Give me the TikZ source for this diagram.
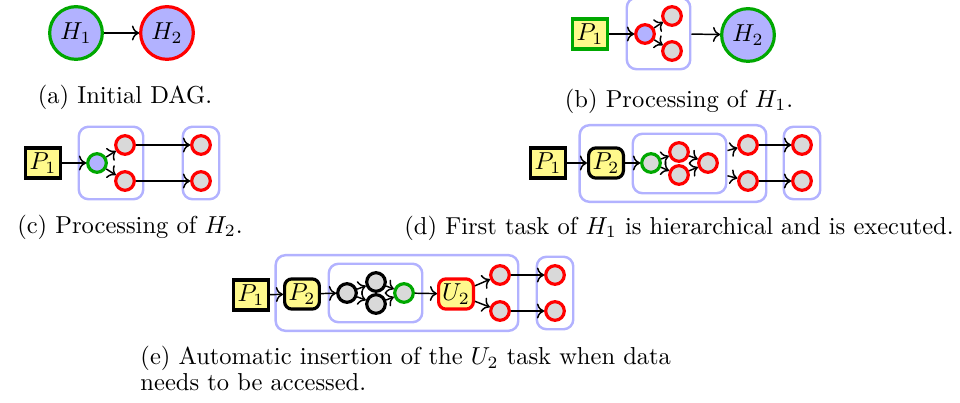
\documentclass[tikz,border=0pt]{standalone}
\usepackage{amsmath}
\usepackage{tikz}
\usetikzlibrary{positioning, fit, arrows.meta}
\definecolor{DagGreen}{RGB}{0,168,0}

\tikzset{
  bigtask/.style={circle, line width=1.3pt, fill=blue!30, minimum size=21.5pt, inner sep=0pt},
  task/.style={circle, line width=1.3pt, draw=red, fill=gray!30, minimum size=7.6pt, inner sep=0pt},
  proc/.style={rectangle, line width=1.3pt, draw=black, fill=yellow!45, minimum width=14.2pt, minimum height=12.3pt, inner sep=1pt},
  hproc/.style={proc, rounded corners=3pt},
  grp/.style={draw=blue!30, line width=1pt, rounded corners=4pt, inner sep=3pt},
  dep/.style={->, semithick},
  capt/.style={font=\normalsize}
}

\begin{document}
\begin{tikzpicture}[x=0.408pt, y=-0.408pt]
\useasboundingbox (0,0) rectangle (960,403);
% --- (a) Initial DAG ---
\node[bigtask, draw=DagGreen] (H1a) at (76,33) {$H_1$};
\node[bigtask, draw=red] (H2a) at (167,33) {$H_2$};
\draw[dep] (H1a) -- (H2a);
\node[capt] (capa) at (125,97) {(a) Initial DAG.};

% --- (b) Processing of H1 ---
\node[proc, draw=DagGreen] (P1b) at (590,34) {$P_1$};
\node[task, fill=blue!30] (b0) at (645,34) {};
\node[task] (b1) at (672,16) {};
\node[task] (b2) at (672,51) {};
\node[grp, fit=(b0)(b1)(b2)] (gb) {};
\node[bigtask, draw=DagGreen] (H2b) at (748,35) {$H_2$};
\draw[dep] (P1b) -- (b0);
\draw[dep] (b0) -- (b1);
\draw[dep] (b0) -- (b2);
\draw[dep] (gb) -- (H2b);
\node[capt] (capb) at (679,101) {(b) Processing of $H_1$.};

% --- (c) Processing of H2 ---
\node[proc] (P1c) at (43,163) {$P_1$};
\node[task, draw=DagGreen, fill=blue!30] (c0) at (97,163) {};
\node[task] (c1) at (125,145) {};
\node[task] (c2) at (125,181) {};
\node[grp, fit=(c0)(c1)(c2)] (gc1) {};
\node[task] (c3) at (201,145) {};
\node[task] (c4) at (201,181) {};
\node[grp, fit=(c3)(c4)] (gc2) {};
\draw[dep] (P1c) -- (c0);
\draw[dep] (c0) -- (c1);
\draw[dep] (c0) -- (c2);
\draw[dep] (c1) -- (c3);
\draw[dep] (c2) -- (c4);
\node[capt] (capc) at (130,227) {(c) Processing of $H_2$.};

% --- (d) First task of H1 executed ---
\node[proc] (P1d) at (548,163) {$P_1$};
\node[hproc] (P2d) at (606,163) {$P_2$};
\node[task, draw=DagGreen] (d0) at (651,163) {};
\node[task] (d1) at (679,152) {};
\node[task] (d2) at (679,175) {};
\node[task] (d3) at (708,163) {};
\node[grp, fit=(d0)(d1)(d2)(d3)] (gd0) {};
\node[task] (d4) at (748,145) {};
\node[task] (d5) at (748,181) {};
\node[grp, fit=(P2d)(gd0)(d4)(d5)] (gd1) {};
\node[task] (d6) at (802,145) {};
\node[task] (d7) at (802,181) {};
\node[grp, fit=(d6)(d7)] (gd2) {};
\draw[dep] (P1d) -- (P2d);
\draw[dep] (P2d) -- (d0);
\draw[dep] (d0) -- (d1);
\draw[dep] (d0) -- (d2);
\draw[dep] (d1) -- (d3);
\draw[dep] (d2) -- (d3);
\draw[dep] (gd0) -- (d4);
\draw[dep] (gd0) -- (d5);
\draw[dep] (d4) -- (d6);
\draw[dep] (d5) -- (d7);
\node[capt] (capd) at (679,228) {(d) First task of $H_1$ is hierarchical and is executed.};

% --- (e) Insertion of U2 ---
\node[proc] (P1e) at (251,295) {$P_1$};
\node[hproc] (P2e) at (302,294) {$P_2$};
\node[task, draw=black] (e0) at (347,293) {};
\node[task, draw=black] (e1) at (376,282) {};
\node[task, draw=black] (e2) at (376,304) {};
\node[task, draw=DagGreen] (e3) at (404,293) {};
\node[grp, fit=(e0)(e1)(e2)(e3)] (ge0) {};
\node[hproc, draw=red] (U2e) at (456,294) {$U_2$};
\node[task] (e4) at (500,275) {};
\node[task] (e5) at (500,311) {};
\node[grp, fit=(P2e)(ge0)(U2e)(e4)(e5)] (ge1) {};
\node[task] (e6) at (555,275) {};
\node[task] (e7) at (555,311) {};
\node[grp, fit=(e6)(e7)] (ge2) {};
\draw[dep] (P1e) -- (P2e);
\draw[dep] (P2e) -- (e0);
\draw[dep] (e0) -- (e1);
\draw[dep] (e0) -- (e2);
\draw[dep] (e1) -- (e3);
\draw[dep] (e2) -- (e3);
\draw[dep] (e3) -- (U2e);
\draw[dep] (U2e) -- (e4);
\draw[dep] (U2e) -- (e5);
\draw[dep] (e4) -- (e6);
\draw[dep] (e5) -- (e7);
\node[capt, anchor=north west, align=left, font={\fontsize{10}{10.6}\selectfont}, inner sep=0pt] (cape) at (140,346)
  {(e) Automatic insertion of the $U_2$ task when data\\needs to be accessed.};
\end{tikzpicture}
\end{document}
